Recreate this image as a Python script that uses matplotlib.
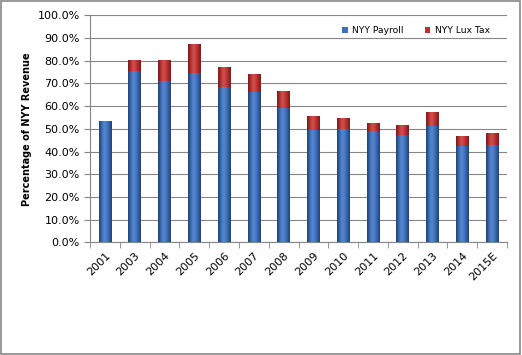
import numpy as np
import matplotlib
matplotlib.use("Agg")
import matplotlib.pyplot as plt
from matplotlib.patches import Rectangle
from matplotlib.colors import to_rgb
from matplotlib.ticker import PercentFormatter

years   = ["2001", "2003", "2004", "2005", "2006", "2007", "2008",
           "2009", "2010", "2011", "2012", "2013", "2014", "2015E"]
payroll = [53.4, 75.5, 71.1, 74.8, 68.4, 66.2, 59.3,
           49.3, 49.8, 48.9, 47.1, 51.2, 42.4, 42.7]
luxtax  = [0.0, 5.0, 9.4, 12.4, 8.7, 7.8, 7.4,
           6.2, 4.8, 3.5, 4.4, 6.1, 4.3, 5.6]

blue = "#3a6fbe"
red = "#c0302e"


def shade(color):
    # dark edges, lighter middle, like Excel's cylinder fill
    c = np.array(to_rgb(color))
    prof = np.array([-0.35, -0.1, 0.08, 0.15, 0.1, 0.0, -0.15, -0.35])
    img = np.empty((1, len(prof), 3))
    for i, f in enumerate(prof):
        img[0, i] = c + (1 - c) * f if f > 0 else c * (1 + f)
    return np.clip(img, 0, 1)


plt.rcParams['font.family'] = ['DejaVu Sans']
fig = plt.figure(figsize=(5.22, 3.55), dpi=100)
ax = fig.add_axes([90 / 522, 1 - 242.3 / 355, 417 / 522, 227 / 355])

x = np.arange(len(years))
w = 0.42
b1 = ax.bar(x, payroll, w, color=blue, zorder=2, label="NYY Payroll")
b2 = ax.bar(x, luxtax, w, bottom=payroll, color=red, zorder=2, label="NYY Lux Tax")

for bars, col in ((b1, blue), (b2, red)):
    img = shade(col)
    for p in bars:
        if p.get_height() <= 0:
            continue
        im = ax.imshow(img, aspect="auto", interpolation="bilinear",
                       extent=[p.get_x(), p.get_x() + p.get_width(),
                               p.get_y(), p.get_y() + p.get_height()],
                       zorder=3)
        im.set_clip_path(p)

ax.set_xlim(-0.5, len(years) - 0.5)
ax.set_ylim(0, 100)
ax.set_yticks(np.arange(0, 101, 10))
ax.yaxis.set_major_formatter(PercentFormatter(decimals=1))
ax.set_xticks(x)
ax.set_xticklabels(years, rotation=45, ha="right", va="top", rotation_mode="anchor")
ax.set_xticks(np.arange(-0.5, len(years), 1), minor=True)
ax.tick_params(axis="x", which="major", length=0, pad=6, labelsize=8)
ax.tick_params(axis="x", which="minor", length=4, color="#868686")
ax.tick_params(axis="y", length=4, color="#868686", labelsize=8)
ax.grid(axis="y", color="#868686", linewidth=0.8, zorder=0)
for s in ["top", "right"]:
    ax.spines[s].set_visible(False)
for s in ["left", "bottom"]:
    ax.spines[s].set_color("#868686")

ax.set_ylabel("Percentage of NYY Revenue", fontsize=7, fontweight="bold", labelpad=4)

ax.legend(loc="upper left", ncol=2, frameon=False, fontsize=6.6,
          bbox_to_anchor=(342 / 522, 1 - 26 / 355), bbox_transform=fig.transFigure,
          borderpad=0, borderaxespad=0, handlelength=0.6, handleheight=0.6,
          columnspacing=2.3, handletextpad=0.5)

fig.patches.append(Rectangle((0.002, 0.003), 0.995, 0.994, transform=fig.transFigure,
                             fill=False, edgecolor="#868686", linewidth=1.2))

fig.savefig("out.png", dpi=100)
